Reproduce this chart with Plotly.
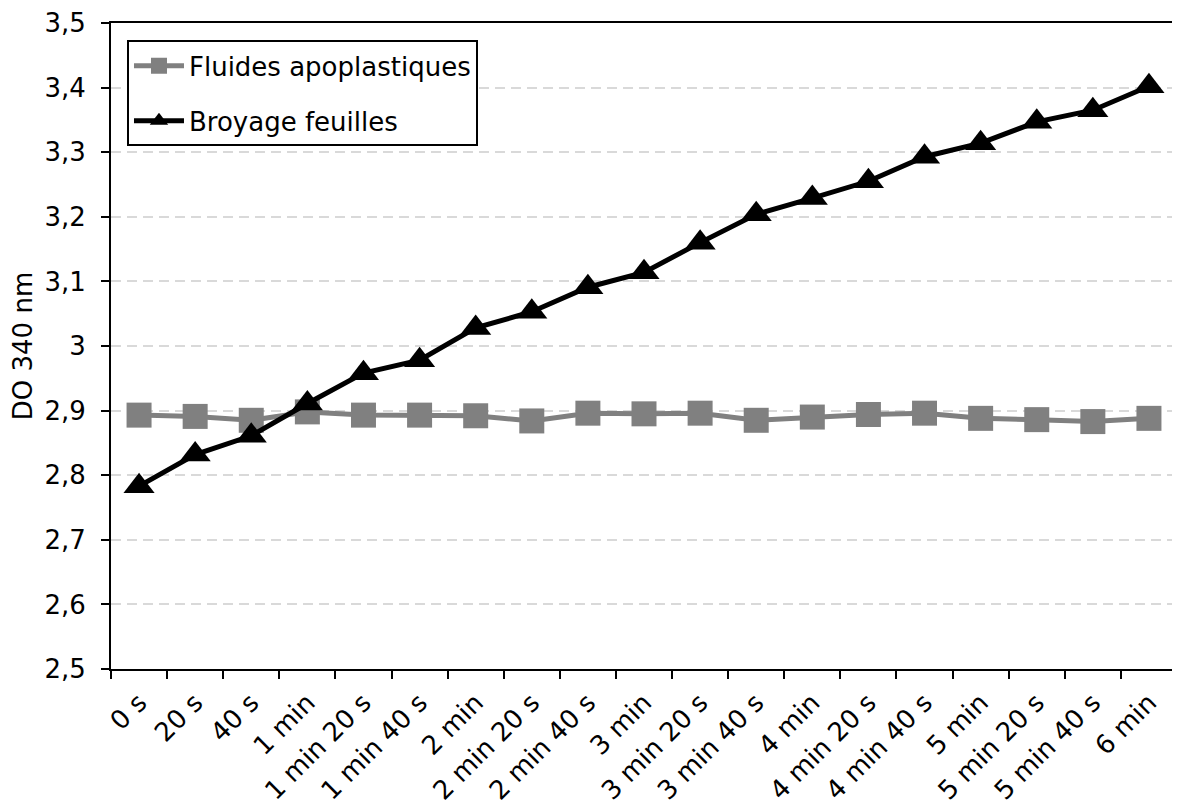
import plotly.graph_objects as go

categories = ["0 s", "20 s", "40 s", "1 min", "1 min 20 s", "1 min 40 s", "2 min",
              "2 min 20 s", "2 min 40 s", "3 min", "3 min 20 s", "3 min 40 s", "4 min",
              "4 min 20 s", "4 min 40 s", "5 min", "5 min 20 s", "5 min 40 s", "6 min"]

fluides = [2.893, 2.891, 2.885, 2.898, 2.893, 2.893, 2.892, 2.884, 2.896, 2.895,
           2.896, 2.885, 2.890, 2.894, 2.896, 2.888, 2.886, 2.883, 2.888]

broyage = [2.783, 2.832, 2.861, 2.911, 2.958, 2.978, 3.028, 3.053, 3.091, 3.114,
           3.160, 3.204, 3.229, 3.255, 3.293, 3.314, 3.347, 3.365, 3.402]

y_ticks = [2.5, 2.6, 2.7, 2.8, 2.9, 3.0, 3.1, 3.2, 3.3, 3.4, 3.5]
y_tick_labels = ["2,5", "2,6", "2,7", "2,8", "2,9", "3", "3,1", "3,2", "3,3", "3,4", "3,5"]

font_family = "DejaVu Sans, Verdana, sans-serif"
FS = 26

fig = go.Figure()
fig.add_trace(go.Scatter(
    x=categories, y=fluides, name="Fluides apoplastiques", mode="lines+markers",
    legendgroup="a",
    line=dict(color="#808080", width=5),
    marker=dict(symbol="square", size=25, color="#808080"),
))
fig.add_trace(go.Scatter(
    x=categories, y=broyage, name="Broyage feuilles", mode="lines+markers",
    legendgroup="b",
    line=dict(color="#000000", width=5),
    marker=dict(symbol="triangle-up", size=27, color="#000000"),
))

fig.update_layout(
    width=1172, height=802,
    margin=dict(l=103, r=3, t=15, b=141, autoexpand=False),
    paper_bgcolor="white", plot_bgcolor="white",
    font=dict(family=font_family, size=FS, color="#000000"),
    showlegend=True,
    legend=dict(
        x=0.015, y=0.973, xanchor="left", yanchor="top",
        bordercolor="#000000", borderwidth=2, bgcolor="white",
        font=dict(family=font_family, size=FS, color="#000000"),
        tracegroupgap=18, itemwidth=50,
    ),
    xaxis=dict(
        type="category", range=[-0.5, 18.5], autorange=False,
        showline=True, linecolor="#000000", linewidth=2, mirror=True,
        ticks="outside", ticklen=8, tickwidth=2, tickcolor="#000000",
        tickson="boundaries", ticklabelstandoff=6,
        tickangle=-45, showgrid=False,
        tickfont=dict(family=font_family, size=FS),
    ),
    yaxis=dict(
        range=[2.5, 3.5], autorange=False,
        tickmode="array", tickvals=y_ticks, ticktext=y_tick_labels,
        ticklabeloverflow="allow",
        showline=True, linecolor="#000000", linewidth=2, mirror=True,
        ticks="outside", ticklen=8, tickwidth=2, tickcolor="#000000",
        ticklabelstandoff=10,
        showgrid=True, gridcolor="#d9d9d9", gridwidth=2, griddash="10px,6px",
        zeroline=False,
        title=dict(text="DO 340 nm", font=dict(family=font_family, size=FS), standoff=8),
        tickfont=dict(family=font_family, size=FS),
    ),
)

fig.write_html("out.html")
